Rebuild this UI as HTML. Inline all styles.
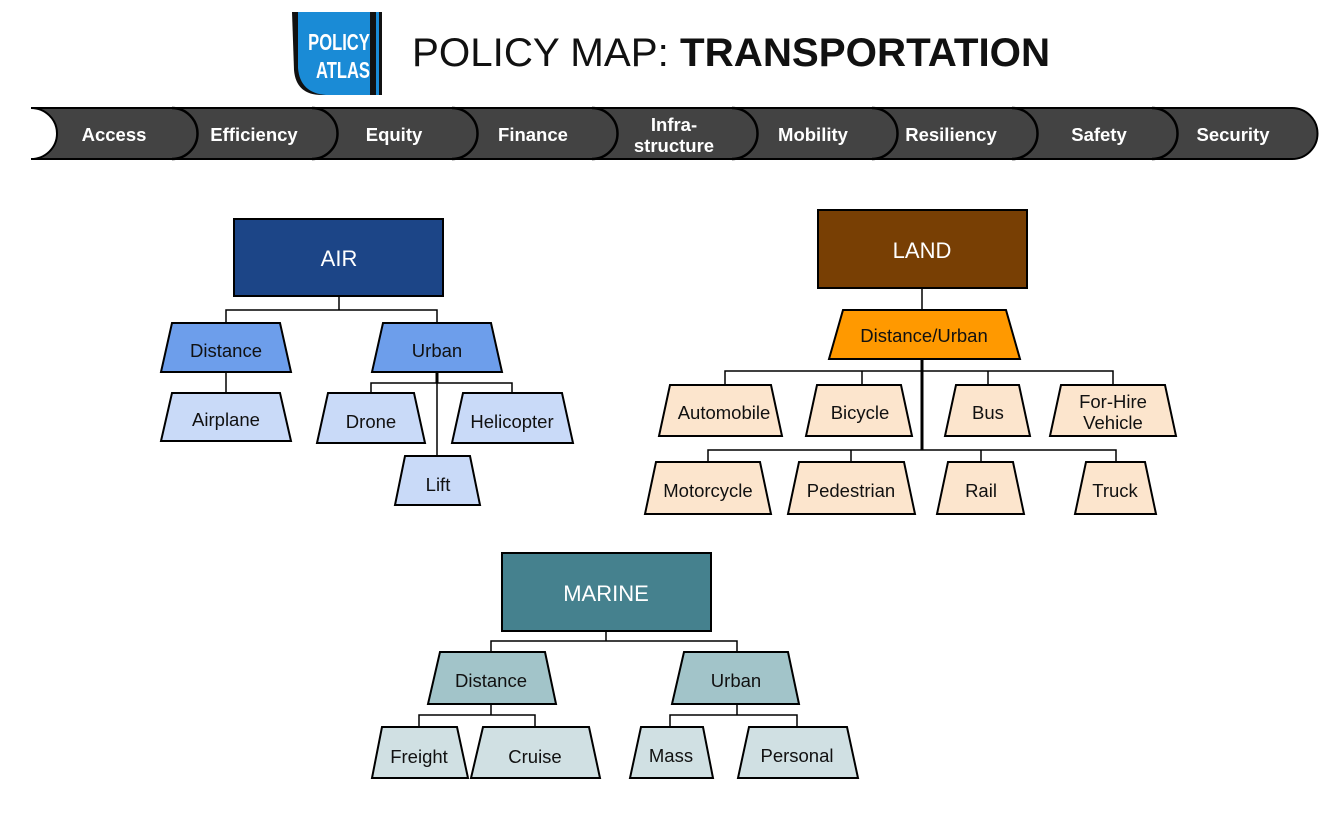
<!DOCTYPE html>
<html><head><meta charset="utf-8"><style>
html,body{margin:0;padding:0;background:#fff;}
svg{display:block;}
text{font-family:"Liberation Sans",Arial,sans-serif;}
</style></head><body>
<svg width="1344" height="816" viewBox="0 0 1344 816" xmlns="http://www.w3.org/2000/svg">
<!-- Logo -->
<path d="M292,12 L372,12 L372,95 L322,95 Q296,95 294,70 Z" fill="#111"/>
<path d="M298,12 L370,12 L370,95 L326,95 Q300,93 298,68 Z" fill="#1a8bd6"/>
<rect x="372" y="12" width="4" height="83" fill="#111"/>
<rect x="379" y="12" width="3" height="83" fill="#111"/>
<rect x="376" y="12" width="3" height="83" fill="#1a8bd6"/>
<text x="339" y="50" font-size="23" font-weight="bold" fill="#fff" text-anchor="middle" transform="translate(339 0) scale(0.72 1) translate(-339 0)">POLICY</text>
<text x="343" y="78" font-size="23" font-weight="bold" fill="#fff" text-anchor="middle" transform="translate(343 0) scale(0.72 1) translate(-343 0)">ATLAS</text>
<!-- Title -->
<text x="412" y="66" font-size="40.3" fill="#111">POLICY MAP: <tspan font-weight="bold">TRANSPORTATION</tspan></text>
<!-- Bar -->
<path d="M31,108 L1292,108 A25.5,25.5 0 0 1 1292,159 L31,159 A26,25.5 0 0 0 31,108 Z" fill="#434343" stroke="#000" stroke-width="2"/>
<g fill="none" stroke="#000" stroke-width="2.5">
<path d="M172,108 A25.5,25.5 0 0 1 172,159"/>
<path d="M312,108 A25.5,25.5 0 0 1 312,159"/>
<path d="M452,108 A25.5,25.5 0 0 1 452,159"/>
<path d="M592,108 A25.5,25.5 0 0 1 592,159"/>
<path d="M732,108 A25.5,25.5 0 0 1 732,159"/>
<path d="M872,108 A25.5,25.5 0 0 1 872,159"/>
<path d="M1012,108 A25.5,25.5 0 0 1 1012,159"/>
<path d="M1152,108 A25.5,25.5 0 0 1 1152,159"/>
</g>
<g fill="#fff" font-size="18.5" font-weight="bold" text-anchor="middle">
<text x="114" y="141">Access</text>
<text x="254" y="141">Efficiency</text>
<text x="394" y="141">Equity</text>
<text x="533" y="141">Finance</text>
<text x="674" y="131">Infra-</text>
<text x="674" y="152">structure</text>
<text x="813" y="141">Mobility</text>
<text x="951" y="141">Resiliency</text>
<text x="1099" y="141">Safety</text>
<text x="1233" y="141">Security</text>
</g>

<!-- Connectors -->
<g fill="none" stroke="#000" stroke-width="1.5">
<path d="M339,296 V310 M226,323 V310 H437 V323 M226,372 V393 M437,372 V456 M371,393 V383 H512 V393"/>
<path d="M922,288 V310 M725,385 V371 H1113 V385 M862,371 V385 M988,371 V385 M708,462 V450 H1116 V462 M851,450 V462 M981,450 V462"/>
<path d="M606,631 V641 M491,652 V641 H737 V652 M491,704 V715 M419,727 V715 H535 V727 M737,704 V715 M670,727 V715 H797 V727"/>
</g>
<path d="M922,359 V450" stroke="#000" stroke-width="3"/>
<path d="M437,372 V383" stroke="#000" stroke-width="3"/>

<g stroke="#000" stroke-width="2">
<rect x="234" y="219" width="209" height="77" fill="#1c4587"/>
<polygon points="172,323 280,323 291,372 161,372" fill="#6d9eeb"/>
<polygon points="383,323 491,323 502,372 372,372" fill="#6d9eeb"/>
<polygon points="172,393 280,393 291,441 161,441" fill="#c9daf8"/>
<polygon points="328,393 414,393 425,443 317,443" fill="#c9daf8"/>
<polygon points="463,393 562,393 573,443 452,443" fill="#c9daf8"/>
<polygon points="405,456 470,456 480,505 395,505" fill="#c9daf8"/>
<rect x="818" y="210" width="209" height="78" fill="#783f04"/>
<polygon points="843,310 1006,310 1020,359 829,359" fill="#ff9900"/>
<polygon points="670,385 771,385 782,436 659,436" fill="#fce5cd"/>
<polygon points="817,385 901,385 912,436 806,436" fill="#fce5cd"/>
<polygon points="956,385 1019,385 1030,436 945,436" fill="#fce5cd"/>
<polygon points="1061,385 1165,385 1176,436 1050,436" fill="#fce5cd"/>
<polygon points="656,462 760,462 771,514 645,514" fill="#fce5cd"/>
<polygon points="799,462 904,462 915,514 788,514" fill="#fce5cd"/>
<polygon points="948,462 1013,462 1024,514 937,514" fill="#fce5cd"/>
<polygon points="1086,462 1145,462 1156,514 1075,514" fill="#fce5cd"/>
<rect x="502" y="553" width="209" height="78" fill="#45818e"/>
<polygon points="440,652 545,652 556,704 428,704" fill="#a2c4c9"/>
<polygon points="684,652 788,652 799,704 672,704" fill="#a2c4c9"/>
<polygon points="382,727 457,727 468,778 372,778" fill="#d0e0e3"/>
<polygon points="483,727 589,727 600,778 471,778" fill="#d0e0e3"/>
<polygon points="641,727 703,727 713,778 630,778" fill="#d0e0e3"/>
<polygon points="749,727 847,727 858,778 738,778" fill="#d0e0e3"/>
</g>

<g font-size="22" fill="#fff" text-anchor="middle">
<text x="339" y="266">AIR</text>
<text x="922" y="258">LAND</text>
<text x="606" y="601">MARINE</text>
</g>
<g font-size="18.5" fill="#111" text-anchor="middle">
<text x="226" y="357">Distance</text>
<text x="437" y="357">Urban</text>
<text x="226" y="426">Airplane</text>
<text x="371" y="428">Drone</text>
<text x="512" y="428">Helicopter</text>
<text x="438" y="491">Lift</text>
<text x="924" y="342">Distance/Urban</text>
<text x="724" y="419">Automobile</text>
<text x="860" y="419">Bicycle</text>
<text x="988" y="419">Bus</text>
<text x="1113" y="408">For-Hire</text>
<text x="1113" y="429">Vehicle</text>
<text x="708" y="497">Motorcycle</text>
<text x="851" y="497">Pedestrian</text>
<text x="981" y="497">Rail</text>
<text x="1115" y="497">Truck</text>
<text x="491" y="687">Distance</text>
<text x="736" y="687">Urban</text>
<text x="419" y="763">Freight</text>
<text x="535" y="763">Cruise</text>
<text x="671" y="762">Mass</text>
<text x="797" y="762">Personal</text>
</g>
</svg>
</body></html>
